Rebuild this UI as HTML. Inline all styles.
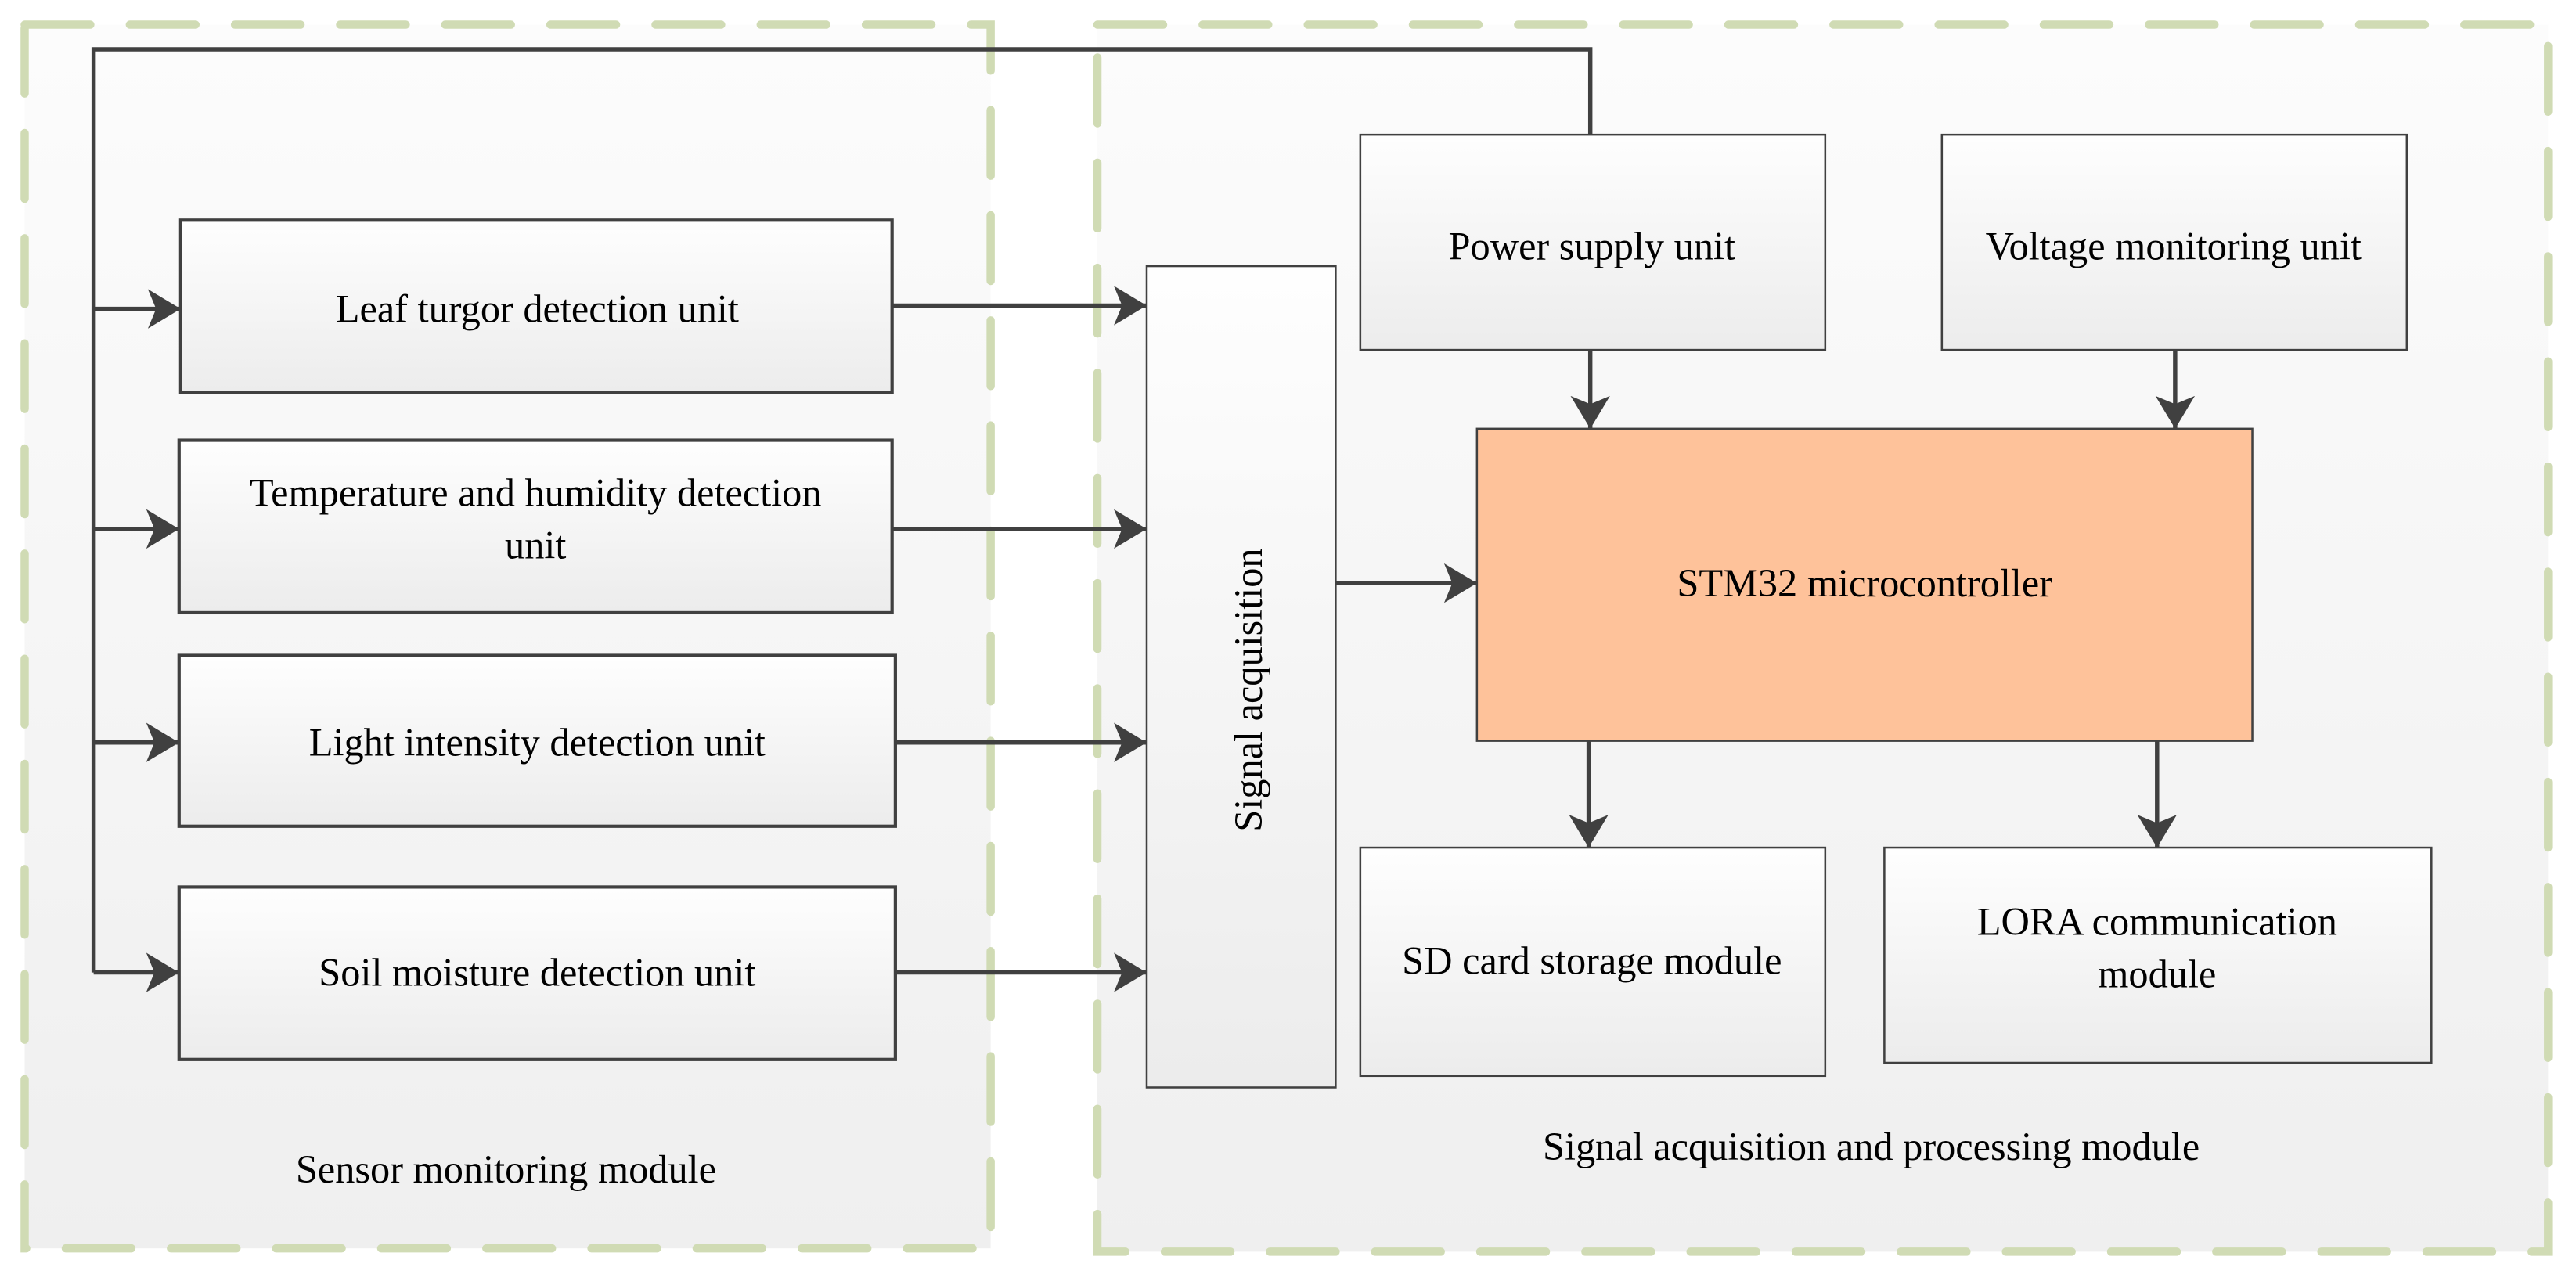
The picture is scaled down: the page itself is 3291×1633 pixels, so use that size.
<!DOCTYPE html>
<html><head><meta charset="utf-8"><style>
html,body{margin:0;padding:0;background:#fff;width:3291px;height:1633px;overflow:hidden}
svg{display:block}
text{font-family:"Liberation Serif",serif;fill:#000;font-size:24px}
</style></head><body>
<svg width="3291" height="1633" viewBox="0 0 1568 778" xmlns="http://www.w3.org/2000/svg">
<defs>
<linearGradient id="bg" x1="0" y1="0" x2="0" y2="1"><stop offset="0" stop-color="#fcfcfc"/><stop offset="1" stop-color="#efefef"/></linearGradient>
<linearGradient id="bx" x1="0" y1="0" x2="0" y2="1"><stop offset="0" stop-color="#fefefe"/><stop offset="1" stop-color="#ececec"/></linearGradient>
<marker id="b" viewBox="0 0 10 10" refX="10" refY="5" markerWidth="20" markerHeight="24" orient="auto" markerUnits="userSpaceOnUse" preserveAspectRatio="none"><path d="M0,0 L10,5 L0,10 L2.5,5 Z" fill="#404040"/></marker>
</defs>
<rect width="1568" height="778" fill="#fff"/>
<rect x="15" y="15" width="588" height="745" fill="url(#bg)"/>
<rect x="668" y="15" width="883" height="747" fill="url(#bg)"/>
<g fill="none" stroke="#d0dbb4" stroke-width="5" stroke-dasharray="40 24" stroke-linecap="round">
<rect x="15" y="15" width="588" height="745"/>
<rect x="668" y="15" width="883" height="747"/>
</g>
<g stroke="#404040" stroke-width="2" fill="url(#bx)">
<rect x="110" y="134" width="433" height="105"/>
<rect x="109" y="268" width="434" height="105"/>
<rect x="109" y="399" width="436" height="104"/>
<rect x="109" y="540" width="436" height="105"/>
<rect x="698" y="162" width="115" height="500" stroke-width="1.2"/>
<rect x="828" y="82" width="283" height="131" stroke-width="1.2"/>
<rect x="1182" y="82" width="283" height="131" stroke-width="1.2"/>
<rect x="828" y="516" width="283" height="139" stroke-width="1.2"/>
<rect x="1147" y="516" width="333" height="131" stroke-width="1.2"/>
<rect x="899" y="261" width="472" height="190" fill="#fec29a" stroke-width="1.2"/>
</g>
<g stroke="#404040" stroke-width="2.6" fill="none">
<polyline points="57,592 57,30 968,30 968,82"/>
<line x1="57" y1="188" x2="110" y2="188" marker-end="url(#b)"/>
<line x1="57" y1="322" x2="109" y2="322" marker-end="url(#b)"/>
<line x1="57" y1="452" x2="109" y2="452" marker-end="url(#b)"/>
<line x1="57" y1="592" x2="109" y2="592" marker-end="url(#b)"/>
<line x1="543" y1="186" x2="698" y2="186" marker-end="url(#b)"/>
<line x1="543" y1="322" x2="698" y2="322" marker-end="url(#b)"/>
<line x1="545" y1="452" x2="698" y2="452" marker-end="url(#b)"/>
<line x1="545" y1="592" x2="698" y2="592" marker-end="url(#b)"/>
<line x1="813" y1="355" x2="899" y2="355" marker-end="url(#b)"/>
<line x1="968" y1="213" x2="968" y2="261" marker-end="url(#b)"/>
<line x1="1324" y1="213" x2="1324" y2="261" marker-end="url(#b)"/>
<line x1="967" y1="451" x2="967" y2="516" marker-end="url(#b)"/>
<line x1="1313" y1="451" x2="1313" y2="516" marker-end="url(#b)"/>
</g>
<g text-anchor="middle">
<text x="327" y="196">Leaf turgor detection unit</text>
<text x="326" y="308">Temperature and humidity detection</text>
<text x="326" y="340">unit</text>
<text x="327" y="460">Light intensity detection unit</text>
<text x="327" y="600">Soil moisture detection unit</text>
<text x="969" y="158">Power supply unit</text>
<text x="1323" y="158">Voltage monitoring unit</text>
<text x="1135" y="363">STM32 microcontroller</text>
<text x="969" y="593">SD card storage module</text>
<text x="1313" y="569">LORA communication</text>
<text x="1313" y="601">module</text>
<text x="308" y="720">Sensor monitoring module</text>
<text x="1139" y="706">Signal acquisition and processing module</text>
<text transform="translate(768,420) rotate(-90)">Signal acquisition</text>
</g>
</svg>
</body></html>
